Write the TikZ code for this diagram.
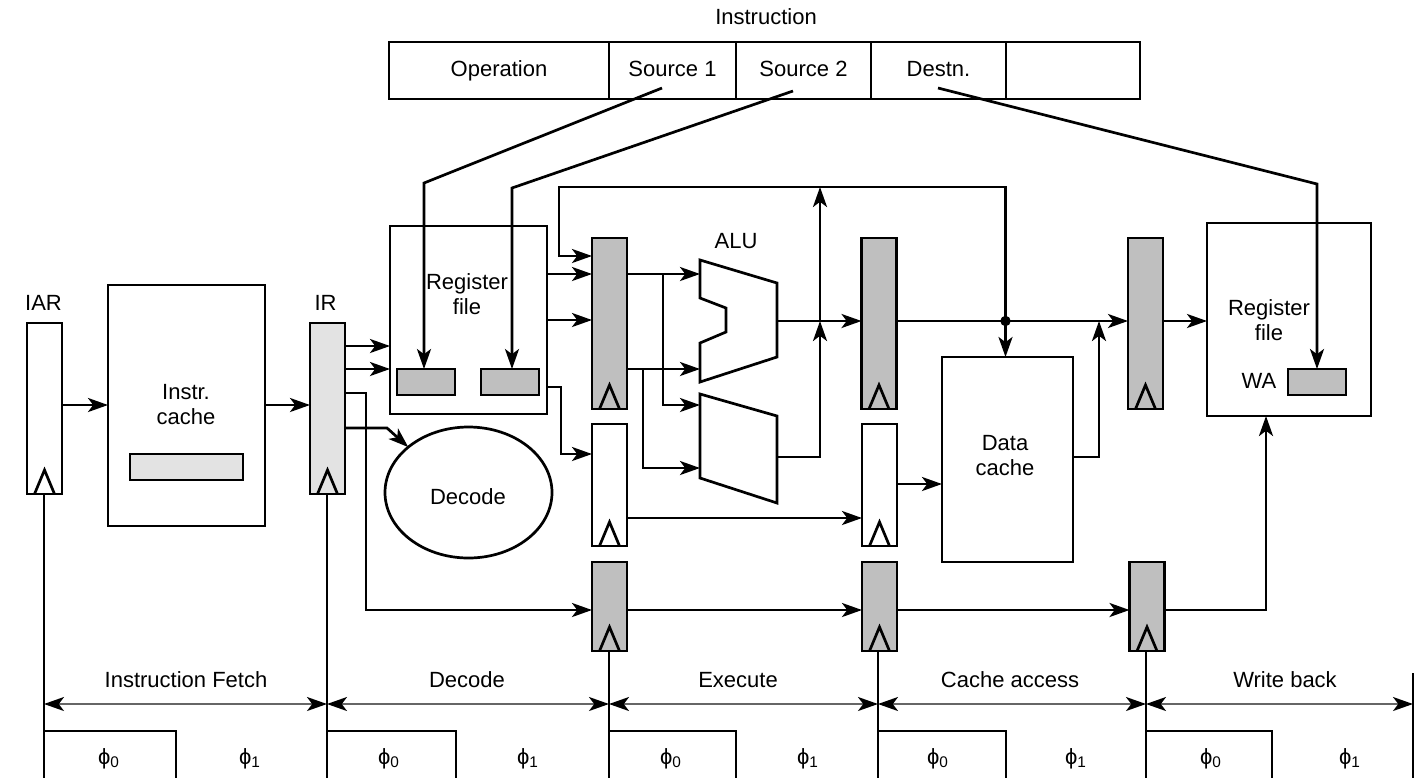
\documentclass[tikz,border=0pt]{standalone}
\usepackage{fontspec}
\setmainfont{Liberation Sans}
\usepackage{xcolor}
\usetikzlibrary{arrows.meta,shapes.geometric}
\definecolor{reggray}{gray}{0.75}
\definecolor{lightreg}{gray}{0.89}

\begin{document}
\begin{tikzpicture}[
    x=0.5pt, y=-0.5pt,
    line width=1.35pt,
    block/.style={rectangle, draw=black, fill=white, inner sep=0pt, outer sep=0pt},
    cell/.style={block, minimum height=28.5pt, font=\fontsize{11}{13}\selectfont, text height=8.6pt, text depth=2.4pt},
    pipereg/.style={block, fill=reggray, minimum width=17.5pt, minimum height=85.5pt},
    slot/.style={block, fill=reggray, minimum width=29pt, minimum height=13pt},
    arrow/.style={-{Stealth[length=10pt, width=7pt, inset=2.6pt]}},
    span/.style={{Stealth[length=10pt, width=7pt, inset=2.6pt, black]}-{Stealth[length=10pt, width=7pt, inset=2.6pt, black]}, line width=0.9pt, draw=black!60},
    txt/.style={font=\fontsize{11}{12.5}\selectfont, align=center, inner sep=0pt},
    phase/.style={font=\fontsize{11}{12}\selectfont, inner sep=0pt}
]
    \useasboundingbox (0,0) rectangle (1414,778);

    % Instruction format
    \node[txt] (insttitle) at (766,17) {Instruction};
    \node[cell, minimum width=110pt]   (oper) at (499,70.5)    {Operation};
    \node[cell, minimum width=63.5pt]  (src1) at (672.5,70.5)  {Source 1};
    \node[cell, minimum width=67.5pt]  (src2) at (803.5,70.5)  {Source 2};
    \node[cell, minimum width=67.5pt]  (dest) at (938.5,70.5)  {Destn.};
    \node[cell, minimum width=67pt]    (spare) at (1073,70.5)  {};

    % Fetch and decode
    \node[block, minimum width=17.5pt, minimum height=85.5pt] (iar) at (44.5,408.5) {};
    \node[txt] (iarname) at (43.5,303) {IAR};
    \node[block, minimum width=78.5pt, minimum height=120.5pt] (icache) at (186.5,405.5) {};
    \node[txt] (icachename) at (186,405) {Instr.\\cache};
    \node[block, fill=lightreg, minimum width=56.5pt, minimum height=13pt] (icacheslot) at (186.5,467) {};
    \node[block, fill=lightreg, minimum width=17.5pt, minimum height=85.5pt] (ir) at (327.5,408.5) {};
    \node[txt] (irname) at (325.5,303) {IR};
    \node[block, minimum width=78.5pt, minimum height=94pt] (regfile) at (468.5,320) {};
    \node[txt] (regfilename) at (467,294) {Register\\file};
    \node[slot] (slota) at (426,382) {};
    \node[slot] (slotb) at (510,382) {};
    \node[block, ellipse, minimum width=83.5pt, minimum height=65.5pt] (decode) at (468.5,492.5) {};
    \node[txt] (decodename) at (468,497) {Decode};

    % Pipeline registers
    \node[pipereg] (exa) at (609.5,323.5) {};
    \node[pipereg] (mema) at (879,323.5) {};
    \node[pipereg] (wba) at (1145.5,323.5) {};
    \node[block, minimum width=17.5pt, minimum height=61pt] (exb) at (609.5,485) {};
    \node[block, minimum width=17.5pt, minimum height=61pt] (memb) at (879.5,485) {};
    \node[pipereg, minimum height=44.5pt] (exc) at (609.5,606.5) {};
    \node[pipereg, minimum height=44.5pt] (memc) at (879.5,606.5) {};
    \node[pipereg, minimum height=44.5pt] (wbc) at (1147,606.5) {};

    % ALUs
    \node[txt] (aluname) at (736,241) {ALU};
    \draw (700,260) -- (777,283) -- (777,357) -- (700,382) -- (700,343) -- (726,332)
        -- (726,308) -- (700,298) -- cycle;
    \draw (700,394) -- (777,416) -- (777,503) -- (700,478) -- cycle;
    \coordinate (aluaup) at (700,274);
    \coordinate (aluadown) at (700,369);
    \coordinate (alubup) at (700,405);
    \coordinate (alubdown) at (700,468);
    \coordinate (aluaout) at (777,321);
    \coordinate (alubout) at (777,457);

    % Data cache and write back
    \node[block, minimum width=65.5pt, minimum height=102.5pt] (dcache) at (1007.5,459.5) {};
    \node[txt] (dcachename) at (1005,456) {Data\\cache};
    \node[block, minimum width=82pt, minimum height=96.5pt] (regback) at (1289,319.5) {};
    \node[txt] (regbackname) at (1269,320) {Register\\file};
    \node[slot] (slotc) at (1317,382) {};
    \node[txt] (waname) at (1259,381) {WA};

    % Operand fields to register ports
    \coordinate (srcatap) at (662,88);
    \coordinate (srcbtap) at (793,91);
    \coordinate (desttap) at (938,88);
    \draw[arrow] (srcatap) -- (424,183) -- (slota.north -| 424,0);
    \draw[arrow] (srcbtap) -- (512,188) -- (slotb.north -| 512,0);
    \draw[arrow] (desttap) -- (1317,184) -- (slotc.north);

    % Front end
    \draw[arrow] (iar.east |- 0,405) -- (icache.west |- 0,405);
    \draw[arrow] (icache.east |- 0,405) -- (ir.west |- 0,405);
    \draw[arrow] (ir.east |- 0,346) -- (regfile.west |- 0,346);
    \draw[arrow] (ir.east |- 0,369) -- (regfile.west |- 0,369);
    \draw[arrow] (ir.east |- 0,393) -- (366,393) -- (366,610) -- (exc.west |- 0,610);
    \draw[arrow] (ir.east |- 0,428) -- (387,428) -- (decode.143);

    % Execute stage
    \draw[arrow] (regfile.east |- 0,274) -- (exa.west |- 0,274);
    \draw[arrow] (regfile.east |- 0,320) -- (exa.west |- 0,320);
    \draw[arrow] (regfile.east |- 0,387) -- (561,387) -- (561,454) -- (exb.west |- 0,454);
    \draw[arrow] (exa.east |- 0,274) -- (aluaup);
    \draw[arrow] (exa.east |- 0,369) -- (aluadown);
    \draw[arrow] (663,274) -- (663,405) -- (alubup);
    \draw[arrow] (643,369) -- (643,468) -- (alubdown);
    \draw[arrow] (aluaout) -- (mema.west |- aluaout);
    \draw[arrow] (alubout) -- (820,457) -- (820,321);
    \draw[arrow] (820,321) -- (820,187);
    \draw[arrow] (exb.east |- 0,518) -- (memb.west |- 0,518);
    \draw[arrow] (exc.east |- 0,610) -- (memc.west |- 0,610);

    % Memory stage and bypass
    \coordinate (bypass) at (1005.5,321);
    \fill (bypass) circle (2.6pt);
    \draw[arrow] (mema.east |- bypass) -- (wba.west |- bypass);
    \draw[arrow] (bypass) -- (dcache.north -| bypass);
    \draw[arrow] (bypass) -- (1005.5,187) -- (559,187) -- (559,256) -- (exa.west |- 0,256);
    \draw[arrow] (memb.east |- 0,484) -- (dcache.west |- 0,484);
    \draw[arrow] (dcache.east |- 0,457) -- (1099,457) -- (1099,321);
    \draw[arrow] (memc.east |- 0,610) -- (wbc.west |- 0,610);
    \draw[arrow] (wba.east |- bypass) -- (regback.west |- bypass);
    \draw[arrow] (wbc.east |- 0,610) -- (1266,610) -- (regback.south -| 1266,0);

    % Clock pins
    \foreach \pin in {iar,ir,exa,exb,exc,mema,memb,memc,wba,wbc}
        \draw ([xshift=-5pt]\pin.south) -- ++(10,-24) -- ++(10,24);

    % Clock lines
    \coordinate (clka) at (44,778);
    \coordinate (clkb) at (327,778);
    \coordinate (clkc) at (609,778);
    \coordinate (clkd) at (878,778);
    \coordinate (clke) at (1146,778);
    \coordinate (clkf) at (1413,778);
    \draw (iar.south -| clka) -- (clka);
    \draw (ir.south -| clkb) -- (clkb);
    \draw (exc.south -| clkc) -- (clkc);
    \draw (memc.south -| clkd) -- (clkd);
    \draw (wbc.south -| clke) -- (clke);
    \draw (clkf |- 0,673) -- (clkf);

    % Stage spans
    \draw[span] (clka |- 0,704) -- (clkb |- 0,704);
    \draw[span] (clkb |- 0,704) -- (clkc |- 0,704);
    \draw[span] (clkc |- 0,704) -- (clkd |- 0,704);
    \draw[span] (clkd |- 0,704) -- (clke |- 0,704);
    \draw[span] (clke |- 0,704) -- (clkf |- 0,704);
    \node[txt] (stagea) at (186,680) {Instruction Fetch};
    \node[txt] (stageb) at (467,680) {Decode};
    \node[txt] (stagec) at (738,680) {Execute};
    \node[txt] (staged) at (1010,680) {Cache access};
    \node[txt] (stagee) at (1285,680) {Write back};

    % Clock phases
    \draw (clka |- 0,731) -- (176,731) -- (176,778);
    \draw (clkb |- 0,731) -- (456,731) -- (456,778);
    \draw (clkc |- 0,731) -- (736,731) -- (736,778);
    \draw (clkd |- 0,731) -- (1006,731) -- (1006,778);
    \draw (clke |- 0,731) -- (1272,731) -- (1272,778);
    \foreach \zero/\one in {109/250,389/528,671/808,938/1076,1211/1350} {
        \node[phase] at (\zero,759) {ϕ\textsubscript{0}};
        \node[phase] at (\one,759) {ϕ\textsubscript{1}};
    }
\end{tikzpicture}
\end{document}
